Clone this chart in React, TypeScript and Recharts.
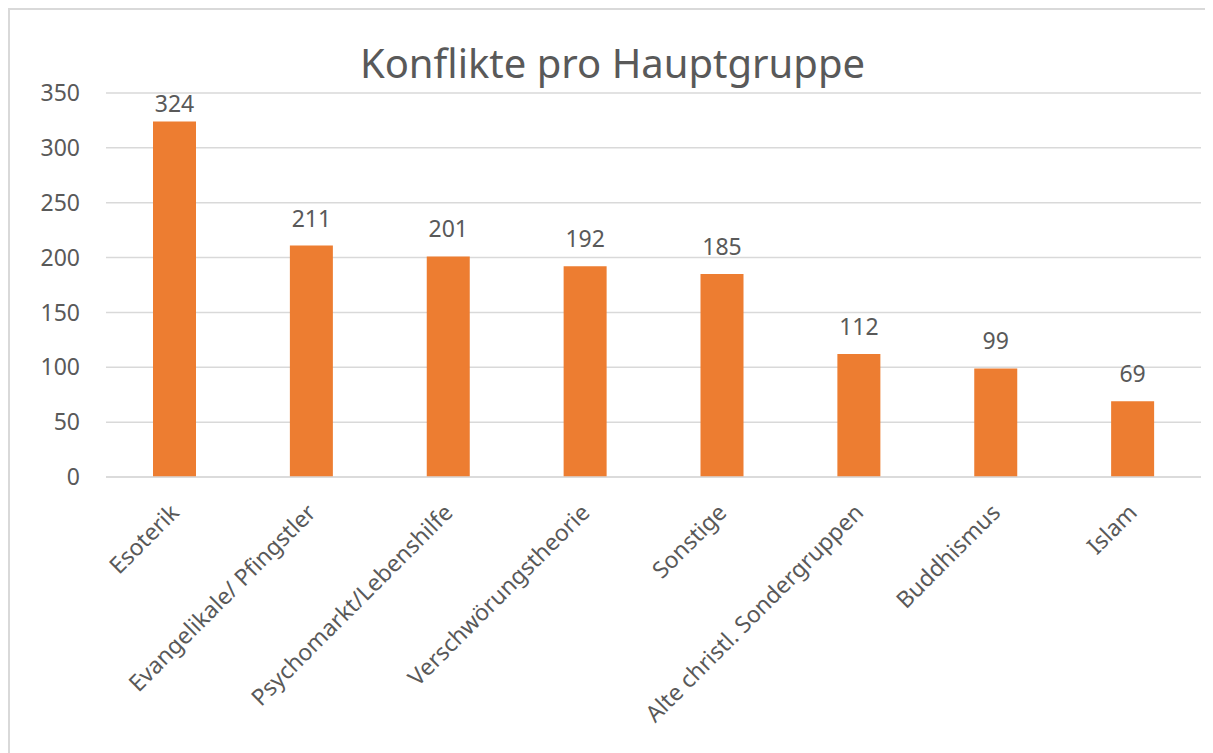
import { BarChart, Bar, XAxis, YAxis, CartesianGrid, LabelList } from 'recharts';

const categories = [
  'Esoterik',
  'Evangelikale/ Pfingstler',
  'Psychomarkt/Lebenshilfe',
  'Verschwörungstheorie',
  'Sonstige',
  'Alte christl. Sondergruppen',
  'Buddhismus',
  'Islam',
];
const conflicts = [324, 211, 201, 192, 185, 112, 99, 69];
const yTicks = [0, 50, 100, 150, 200, 250, 300, 350];

const data = categories.map((name, i) => ({ name, value: conflicts[i] }));

const FONT = '"Noto Sans", sans-serif';
const TEXT = '#595959';

function RotatedTick({ x, y, payload }: any) {
  const tx = x + 6;
  const ty = y + 29;
  return (
    <text
      x={tx}
      y={ty}
      transform={`rotate(-45, ${tx}, ${ty})`}
      textAnchor="end"
      fill={TEXT}
      fontSize={23}
      fontFamily={FONT}
    >
      {payload.value}
    </text>
  );
}

// value label above bar; kept below the plot top like Excel does
function ValueLabel({ x, y, width, value }: any) {
  const ly = Math.max(y - 19, 104);
  return (
    <text
      x={x + width / 2}
      y={ly}
      textAnchor="middle"
      fill={TEXT}
      fontSize={23}
      fontFamily={FONT}
    >
      {value}
    </text>
  );
}

export default function App() {
  return (
    <div
      style={{
        position: 'relative',
        width: 1205,
        height: 745,
        boxSizing: 'border-box',
        borderTop: '2px solid #d9d9d9',
        borderLeft: '2px solid #d9d9d9',
        background: '#fff',
        overflow: 'hidden',
      }}
    >
      <div
        style={{
          position: 'absolute',
          top: 25,
          left: 0,
          width: 1205,
          textAlign: 'center',
          fontFamily: FONT,
          fontSize: 40,
          color: TEXT,
        }}
      >
        Konflikte pro Hauptgruppe
      </div>
      <BarChart
        width={1205}
        height={745}
        data={data}
        margin={{ top: 85, right: 12, left: 0, bottom: 0 }}
        style={{ position: 'absolute', top: -2, left: -2 }}
      >
        <CartesianGrid vertical={false} stroke="#d9d9d9" strokeWidth={1.5} />
        <XAxis
          dataKey="name"
          interval={0}
          height={276}
          axisLine={{ stroke: '#d9d9d9', strokeWidth: 1.5 }}
          tickLine={false}
          tick={<RotatedTick />}
        />
        <YAxis
          domain={[0, 350]}
          ticks={yTicks}
          width={98}
          axisLine={false}
          tickLine={false}
          tickSize={0}
          tickMargin={26}
          tick={{ fill: TEXT, fontSize: 23, fontFamily: FONT }}
        />
        <Bar dataKey="value" fill="#ed7d31" barSize={43} isAnimationActive={false}>
          <LabelList dataKey="value" content={<ValueLabel />} />
        </Bar>
      </BarChart>
    </div>
  );
}
